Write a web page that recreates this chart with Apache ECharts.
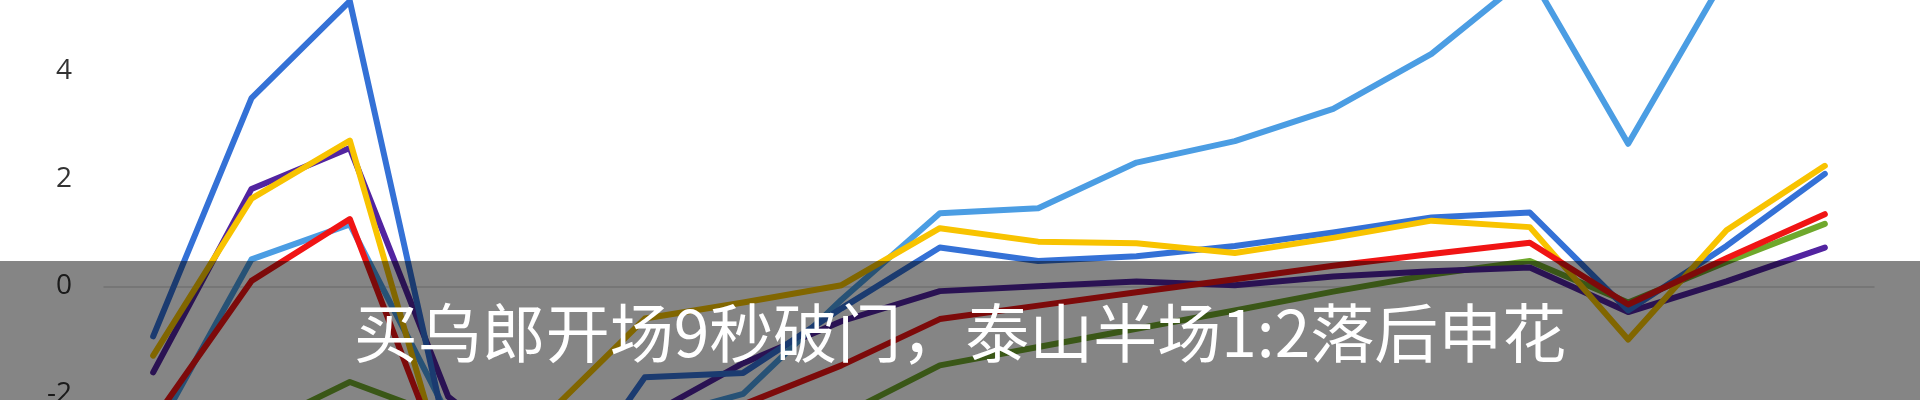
<!DOCTYPE html>
<html>
<head>
<meta charset="utf-8">
<script src="https://cdn.jsdelivr.net/npm/echarts@6/dist/echarts.min.js"></script>
<style>
html,body{margin:0;padding:0;background:#fff;overflow:hidden;width:1920px;height:400px;}
body{position:relative;}
#chart{position:absolute;left:0;top:-158px;width:1920px;height:781px;}
</style>
</head>
<body>
<div id="chart"></div>
<script>
const categories = ['1','2','3','4','5','6','7','8','9','10','11','12','13','14','15','16','17','18'];
const darkBlue  = [-0.93, 3.5, 5.3, -2.9, -4.3, -1.69, -1.61, -0.41, 0.72, 0.47, 0.56, 0.75, 1.0, 1.28, 1.37, -0.45, 0.75, 2.09];
const lightBlue = [-2.8, 0.5, 1.15, -2.4, -3.2, -2.5, -2.0, -0.25, 1.36, 1.45, 2.3, 2.7, 3.3, 4.32, 5.8, 2.65, 5.8, 6.5];
const gold      = [-1.29, 1.63, 2.71, -3.6, -2.4, -0.6, -0.3, 0.02, 1.08, 0.83, 0.8, 0.62, 0.9, 1.22, 1.1, -0.99, 1.04, 2.24];
const purple    = [-1.6, 1.81, 2.57, -2.05, -3.5, -2.44, -1.43, -0.65, -0.09, 0.0, 0.09, 0.02, 0.18, 0.28, 0.35, -0.48, 0.09, 0.72];
const red       = [-2.5, 0.1, 1.25, -3.5, -4.5, -3.5, -2.2, -1.47, -0.61, -0.36, -0.11, 0.13, 0.38, 0.6, 0.81, -0.34, 0.52, 1.34];
const green     = [-3.0, -2.67, -1.78, -2.46, -3.5, -3.5, -3.0, -2.4, -1.47, -1.13, -0.79, -0.45, -0.1, 0.22, 0.47, -0.3, 0.45, 1.16];
const caption = '买乌郎开场9秒破门，泰山半场1:2落后申花';

const OFFSET = 158; // chart canvas starts 158px above the visible page
const chart = echarts.init(document.getElementById('chart'));
function line(data, color) {
  return { type: 'line', data: data, symbol: 'none', clip: true,
           lineStyle: { width: 6, color: color, cap: 'round', join: 'round' },
           itemStyle: { color: color } };
}
chart.setOption({
  animation: false,
  backgroundColor: '#ffffff',
  grid: { left: 104, right: 46, top: 0, bottom: 0.5 },
  xAxis: {
    type: 'category', data: categories, boundaryGap: true,
    axisLine: { show: true, onZero: true, lineStyle: { color: '#d9d9d9', width: 1.5 } },
    axisTick: { show: false }, axisLabel: { show: false }, splitLine: { show: false }
  },
  yAxis: {
    type: 'value', min: -6, max: 8, interval: 2,
    axisLine: { show: false }, axisTick: { show: false }, splitLine: { show: false },
    axisLabel: { margin: 32, color: '#333333', fontSize: 28, fontFamily: 'Open Sans' }
  },
  series: [
    line(green, '#6fa82c'),
    line(purple, '#5224a0'),
    line(lightBlue, '#4b9de3'),
    line(darkBlue, '#3471d6'),
    line(gold, '#f8c300'),
    line(red, '#f01414')
  ],
  graphic: [
    { type: 'rect', z: 100, shape: { x: 0, y: 261 + OFFSET, width: 1920, height: 139 },
      style: { fill: 'rgba(0,0,0,0.48)' } },
    { type: 'text', z: 101,
      style: { text: caption, x: 960, y: 333 + OFFSET, textAlign: 'center', textVerticalAlign: 'middle',
               align: 'center', verticalAlign: 'middle',
               fill: '#ffffff', fontSize: 64, fontFamily: 'Noto Sans CJK SC' } }
  ]
});
</script>
</body>
</html>
